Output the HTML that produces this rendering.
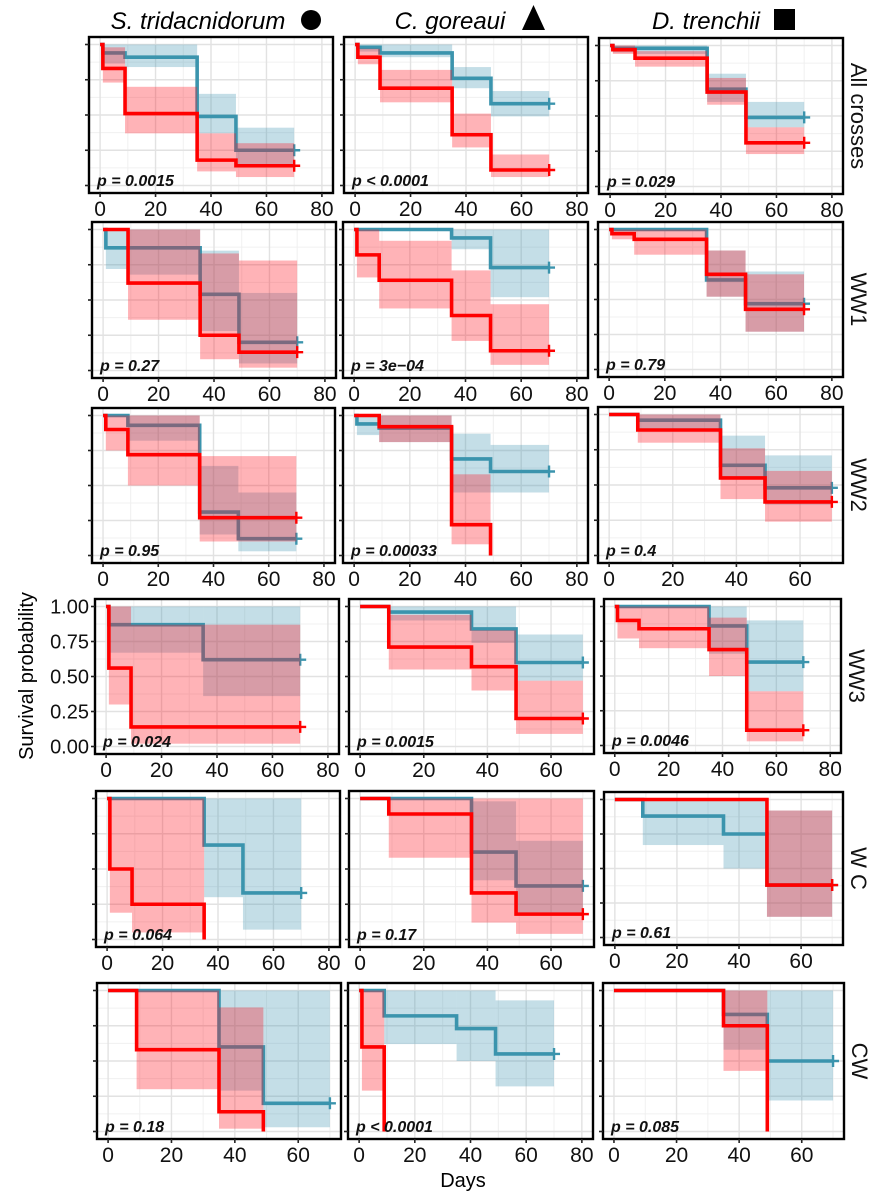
<!DOCTYPE html>
<html><head><meta charset="utf-8"><style>
html,body{margin:0;padding:0;background:#fff;}
svg{display:block;font-family:"Liberation Sans",Arial,sans-serif;}
</style></head><body>
<svg id="fig" width="894" height="1200" viewBox="0 0 894 1200" xmlns="http://www.w3.org/2000/svg">
<text x="198" y="29" font-size="24" font-style="italic" text-anchor="middle">S. tridacnidorum</text>
<circle cx="311" cy="20" r="10" fill="#000"/>
<text x="450" y="29" font-size="24" font-style="italic" text-anchor="middle">C. goreaui</text>
<polygon points="522,30 545,30 533.5,5" fill="#000"/>
<text x="706" y="29" font-size="24" font-style="italic" text-anchor="middle">D. trenchii</text>
<rect x="774" y="9" width="21" height="21" fill="#000"/>
<text transform="translate(33,676) rotate(-90)" font-size="20" text-anchor="middle">Survival probability</text>
<text x="463" y="1187" font-size="20" text-anchor="middle">Days</text>
</svg>
<script>
const panelNames = ["all-s","all-c","all-d","ww1-s","ww1-c","ww1-d","ww2-s","ww2-c","ww2-d","ww3-s","ww3-c","ww3-d","wc-s","wc-c","wc-d","cw-s","cw-c","cw-d"];
const rowLabels = ["All crosses","WW1","WW2","WW3","W C","CW"];
const xMaxes = [80,80,80, 80,80,80, 80,80,70, 80,70,80, 80,70,70, 70,80,70];
const pValues = ["p = 0.0015","p < 0.0001","p = 0.029","p = 0.27","p = 3e\u221204","p = 0.79","p = 0.95","p = 0.00033","p = 0.4","p = 0.024","p = 0.0015","p = 0.0046","p = 0.064","p = 0.17","p = 0.61","p = 0.18","p < 0.0001","p = 0.085"];
const yTickLabels = ["0.00","0.25","0.50","0.75","1.00"];
const censorDay = 70;
const blueTimes = [[0,1,9,35,49],[0,1,9,35,49],[0,1,9,35,49],[0,1,9,35,49],[0,35,49],[0,35,49],[0,9,35,49],[0,1,9,35,49],[0,9,35,49],[0,1,35],[0,9,35,49],[0,35,49],[0,35,49],[0,35,49],[0,9,35,49],[0,35,49],[0,9,35,49],[0,35,49]];
const blueSurv = [[1,.94,.91,.49,.25],[1,.98,.94,.76,.58],[1,.98,.98,.69,.49],[1,.87,.87,.54,.20],[1,.94,.73],[1,.64,.47],[1,.93,.31,.12],[1,.94,.91,.69,.60],[1,.96,.64,.48],[1,.87,.62],[1,.96,.84,.60],[1,.86,.60],[1,.67,.33],[1,.62,.38],[1,.88,.75,.38],[1,.60,.20],[1,.82,.73,.55],[1,.83,.50]];
const blueLower = [[1,.865,.84,.37,.13],[1,.95,.91,.69,.49],[1,.95,.94,.60,.42],[1,.72,.68,.28,.05],[1,.86,.52],[1,.52,.27],[1,.82,.15,.03],[1,.86,.81,.45,.45],[1,.90,.55,.36],[1,.67,.36],[1,.90,.74,.47],[1,.66,.39],[1,.30,.07],[1,.42,.19],[1,.67,.50,.15],[1,.29,.03],[1,.62,.50,.32],[1,.58,.22]];
const blueUpper = [[1,1,1,.65,.41],[1,1,1,.84,.67],[1,1,1,.80,.60],[1,1,1,.85,.55],[1,1,1],[1,.85,.70],[1,1,.64,.45],[1,1,1,.87,.79],[1,1,.85,.71],[1,1,1],[1,1,1,.80],[1,1,.90],[1,1,1],[1,.98,.70],[1,1,1,.92],[1,1,1],[1,1,1,.93],[1,1,1]];
const redTimes = [[0,1,9,35,49],[0,1,9,35,49],[0,1,9,35,49],[0,9,35,49],[0,1,9,35,49],[0,1,9,35,49],[0,1,9,35],[0,9,35,49],[0,9,35,49],[0,1,9],[0,9,35,49],[0,1,9,35,49],[0,1,9,35],[0,9,35,49],[0,49],[0,9,35,49],[0,1,9],[0,35,49]];
const redSurv = [[1,.83,.51,.18,.14],[1,.91,.69,.36,.11],[1,.97,.91,.67,.31],[1,.62,.25,.13],[1,.82,.64,.39,.14],[1,.97,.93,.68,.43],[1,.90,.72,.27],[1,.92,.22,0],[1,.89,.55,.38],[1,.56,.14],[1,.71,.57,.20],[1,.90,.84,.69,.11],[1,.50,.25,0],[1,.89,.33,.18],[1,.38],[1,.58,.14,0],[1,.60,0],[1,.75,0]];
const redLower = [[1,.73,.37,.10,.06],[1,.86,.59,.27,.06],[1,.94,.85,.58,.23],[1,.36,.08,.02],[1,.66,.44,.21,.04],[1,.93,.82,.52,.27],[1,.75,.50,.10],[1,.81,.08,0],[1,.80,.40,.24],[1,.30,.02],[1,.55,.40,.09],[1,.77,.70,.50,.03],[1,.19,.05,0],[1,.58,.12,.04],[1,.15],[1,.30,.02,0],[1,.29,0],[1,.43,0]];
const redUpper = [[1,.98,.70,.37,.30],[1,.97,.82,.51,.22],[1,1,.96,.77,.42],[1,1,.83,.78],[1,1,.92,.71,.47],[1,1,1,.85,.68],[1,1,1,.71],[1,1,.58,0],[1,1,.76,.60],[1,1,.87],[1,.94,.83,.47],[1,1,1,.92,.39],[1,1,1,0],[1,1,1,1],[1,.92],[1,1,.88,0],[1,1,0],[1,1,0]];

// layout (pixel boxes, not data)
const boxes = [[89,37,333,193],[344,37,588,193],[599,38,843,194],
[92,222,336,378],[343,222,588,378],[598,222,843,377],
[92,408,335,563],[343,408,588,563],[598,407,843,563],
[95,599,339,754],[349,599,594,754],[604,599,841,753],
[96,791,340,947],[349,791,594,947],[604,792,843,945],
[97,983,341,1139],[348,983,593,1139],[603,983,844,1139]];

const NS = "http://www.w3.org/2000/svg";
const svg = document.getElementById("fig");
function mk(parent, tag, attrs){ const e=document.createElementNS(NS,tag); for(const k in attrs) e.setAttribute(k,attrs[k]); parent.appendChild(e); return e; }

const BLUE="#3b94ad", RED="#ff0000";
const BLUEFILL="rgba(60,145,175,0.3)", REDFILL="rgba(255,20,30,0.32)";

function drawSeries(g, t, s, lo, hi, xs, ys, lineCol, fillCol, nm){
  const n=t.length;
  const last=s[n-1];
  for(let i=0;i<n;i++){
    const t0=t[i], t1=(i<n-1)?t[i+1]:censorDay;
    if(s[i]<=0 || hi[i]-lo[i]<=0.001) continue;
    const r=mk(g,"rect",{x:xs(t0),y:ys(hi[i]),width:xs(t1)-xs(t0),height:ys(lo[i])-ys(hi[i]),fill:fillCol});
    
    
  }
  let d="M"+xs(t[0])+","+ys(s[0]);
  for(let i=1;i<n;i++){ d+=" H"+xs(t[i])+" V"+ys(s[i]); }
  if(last>0) d+=" H"+xs(censorDay);
  const p=mk(g,"path",{d:d,fill:"none",stroke:lineCol,"stroke-width":3.6,"stroke-linejoin":"miter"});
  
  
  if(last>0){
    const cx=xs(censorDay), cy=ys(last);
    const c=mk(g,"path",{d:`M${cx-6},${cy} H${cx+6} M${cx},${cy-6} V${cy+6}`,stroke:lineCol,"stroke-width":2.4,fill:"none"});
    
    
  }
}

for(let k=0;k<18;k++){
  const [x0,y0,x1,y1]=boxes[k];
  const xmax=xMaxes[k];
  const hiD=xmax===80?84:73.5, loD=xmax===80?-4:-3.5;
  const xs=v=>x0+(v-loD)/(hiD-loD)*(x1-x0);
  const ys=v=>(y1-7.5)-v*((y1-7.5)-(y0+7.5));
  const g=mk(svg,"g",{});
  
  
  const clipId="c"+k;
  const cp=mk(g,"clipPath",{id:clipId}); mk(cp,"rect",{x:x0,y:y0,width:x1-x0,height:y1-y0});
  const inner=mk(g,"g",{"clip-path":`url(#${clipId})`});
  const xt=xmax===80?[0,20,40,60,80]:[0,20,40,60];
  for(let v=10; v<hiD; v+=20){ const l=mk(inner,"line",{x1:xs(v),x2:xs(v),y1:y0,y2:y1,stroke:"#f0f0f0","stroke-width":1});   }
  for(let v=0.125; v<1; v+=0.25){ const l=mk(inner,"line",{x1:x0,x2:x1,y1:ys(v),y2:ys(v),stroke:"#f0f0f0","stroke-width":1});   }
  xt.forEach(v=>{ const l=mk(inner,"line",{x1:xs(v),x2:xs(v),y1:y0,y2:y1,stroke:"#e2e2e2","stroke-width":1.4});   });
  [0,0.25,0.5,0.75,1].forEach(v=>{ const l=mk(inner,"line",{x1:x0,x2:x1,y1:ys(v),y2:ys(v),stroke:"#e2e2e2","stroke-width":1.4});   });
  drawSeries(inner, blueTimes[k], blueSurv[k], blueLower[k], blueUpper[k], xs, ys, BLUE, BLUEFILL, 'blue');
  drawSeries(inner, redTimes[k], redSurv[k], redLower[k], redUpper[k], xs, ys, RED, REDFILL, 'red');
  const pt=mk(g,"text",{x:x0+8,y:y1-7,"font-size":16,"font-weight":"bold","font-style":"italic",fill:"#111"});
  pt.textContent=pValues[k];
  
  
  const bx=mk(g,"rect",{x:x0,y:y0,width:x1-x0,height:y1-y0,fill:"none",stroke:"#000","stroke-width":2.4});
  
  
  [0,0.25,0.5,0.75,1].forEach((v,i)=>{
    const l=mk(g,"line",{x1:x0-4,x2:x0,y1:ys(v),y2:ys(v),stroke:"#222","stroke-width":1.6});
    
    
    if(k===9){
      const tl=mk(svg,"text",{x:x0-6,y:ys(v)+7,"font-size":20,"text-anchor":"end",fill:"#111"});
      tl.textContent=yTickLabels[i];
      
      
    }
  });
  xt.forEach(v=>{
    const l=mk(g,"line",{x1:xs(v),x2:xs(v),y1:y1,y2:y1+4,stroke:"#222","stroke-width":1.6});
    
    
    const tl=mk(g,"text",{x:xs(v),y:y1+23,"font-size":21,"text-anchor":"middle",fill:"#111"});
    tl.textContent=String(v);
    
    
  });
  if(k%3===2){
    const r=Math.floor(k/3);
    const cy=(y0+y1)/2;
    const rl=mk(svg,"text",{transform:`translate(${x1+8},${cy}) rotate(90)`,"font-size":22,"text-anchor":"middle",fill:"#111"});
    rl.textContent=rowLabels[r];
    
    
  }
}
</script>
</body></html>
